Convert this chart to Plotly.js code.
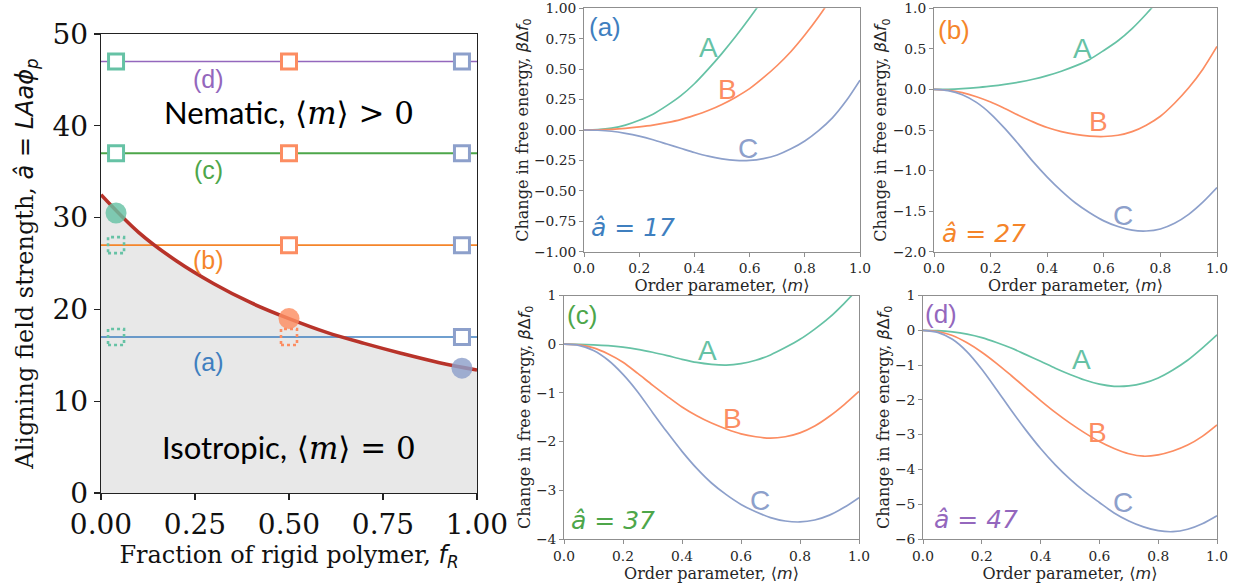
<!DOCTYPE html>
<html><head><meta charset="utf-8">
<script src="https://cdn.plot.ly/plotly-3.0.1.min.js"></script>
<style>html,body{margin:0;padding:0;background:#fff}#chart{width:1245px;height:585px}</style>
</head><body><div id="chart"></div>
<script>
// ---------- Left panel: phase diagram ----------
const fracRigid    = [0, 0.1, 0.2, 0.3, 0.4, 0.5, 0.6, 0.7, 0.8, 0.9, 1.0];
const boundaryAHat = [32.5, 28.4, 25.3, 22.8, 20.7, 19.0, 17.5, 16.3, 15.2, 14.2, 13.4];
const fieldLevels  = [17, 27, 37, 47];
const levelLabels  = ['(a)', '(b)', '(c)', '(d)'];
const levelLabelY  = [14.3, 25.4, 35.2, 45.1];
const systems      = ['A', 'B', 'C'];
const systemFR     = [0.04, 0.5, 0.96];
const transitionAHat = [30.5, 19.0, 13.6];
const nematicA = [37, 47];
const nematicB = [27, 37, 47];
const nematicC = [17, 27, 37, 47];
const isotropicA = [17, 27];
const isotropicB = [17];
const isotropicC = [];

// ---------- Right panels: free energy vs order parameter ----------
const orderParam = [0, 0.05, 0.1, 0.15, 0.2, 0.25, 0.3, 0.35, 0.4, 0.45, 0.5,
                    0.55, 0.6, 0.65, 0.7, 0.75, 0.8, 0.85, 0.9, 0.95, 1.0];
// (a) a-hat = 17
const dfA17 = [0, 0.003, 0.015, 0.04, 0.08, 0.13, 0.2, 0.28, 0.38, 0.5, 0.63, 0.77, 0.92, 1.08, 1.25, 1.43, 1.62, 1.82, 2.03, 2.25, 2.48];
const dfB17 = [0, 0.001, 0.005, 0.013, 0.025, 0.04, 0.06, 0.085, 0.12, 0.16, 0.21, 0.27, 0.34, 0.43, 0.53, 0.645, 0.78, 0.93, 1.1, 1.29, 1.5];
const dfC17 = [0, -0.002, -0.01, -0.027, -0.05, -0.08, -0.115, -0.15, -0.185, -0.215, -0.237, -0.25, -0.25, -0.235, -0.205, -0.155, -0.09, -0.005, 0.1, 0.24, 0.41];
// (b) a-hat = 27
const dfA27 = [0, 0.002, 0.01, 0.022, 0.04, 0.062, 0.09, 0.125, 0.17, 0.225, 0.29, 0.37, 0.48, 0.6, 0.75, 0.93, 1.13, 1.35, 1.6, 1.87, 2.15];
const dfB27 = [0, -0.01, -0.04, -0.09, -0.155, -0.235, -0.32, -0.4, -0.47, -0.52, -0.555, -0.575, -0.58, -0.565, -0.52, -0.44, -0.33, -0.17, 0.02, 0.25, 0.53];
const dfC27 = [0, -0.015, -0.065, -0.16, -0.3, -0.48, -0.68, -0.89, -1.08, -1.25, -1.4, -1.52, -1.62, -1.69, -1.735, -1.745, -1.72, -1.65, -1.54, -1.39, -1.21];
// (c) a-hat = 37
const dfA37 = [0, -0.002, -0.012, -0.03, -0.06, -0.105, -0.165, -0.235, -0.31, -0.375, -0.415, -0.43, -0.4, -0.33, -0.22, -0.07, 0.1, 0.31, 0.55, 0.84, 1.16];
const dfB37 = [0, -0.015, -0.075, -0.2, -0.37, -0.6, -0.84, -1.07, -1.29, -1.47, -1.62, -1.74, -1.84, -1.9, -1.93, -1.9, -1.82, -1.68, -1.48, -1.24, -0.97];
const dfC37 = [0, -0.025, -0.13, -0.33, -0.62, -0.98, -1.4, -1.81, -2.2, -2.55, -2.85, -3.09, -3.29, -3.44, -3.56, -3.63, -3.65, -3.61, -3.51, -3.35, -3.15];
// (d) a-hat = 47
const dfA47 = [0, -0.01, -0.045, -0.11, -0.21, -0.35, -0.51, -0.7, -0.89, -1.09, -1.27, -1.43, -1.55, -1.61, -1.6, -1.52, -1.37, -1.14, -0.86, -0.51, -0.13];
const dfB47 = [0, -0.035, -0.15, -0.36, -0.63, -0.95, -1.3, -1.66, -2.02, -2.36, -2.67, -2.95, -3.2, -3.4, -3.55, -3.62, -3.58, -3.47, -3.3, -3.05, -2.72];
const dfC47 = [0, -0.06, -0.26, -0.62, -1.12, -1.7, -2.3, -2.87, -3.4, -3.87, -4.28, -4.64, -4.95, -5.25, -5.48, -5.65, -5.76, -5.79, -5.72, -5.56, -5.33];

const panelLevels = [17, 27, 37, 47];
const panelYRange = [[-1, 1], [-2, 1], [-4, 1], [-6, 1]];
const panelYDtick = [0.25, 0.5, 1, 1];
const panelYFormat = ['.2f', '.1f', 'd', 'd'];
const labelX = [[0.45, 0.52, 0.594], [0.523, 0.58, 0.668], [0.485, 0.57, 0.664], [0.54, 0.595, 0.68]];
const labelY = [[0.68, 0.33, -0.15], [0.51, -0.40, -1.55], [-0.13, -1.52, -3.2], [-0.85, -2.95, -4.96]];

const sysColors = ['#66c2a5', '#fc8d62', '#8da0cb'];
const levelColors = ['#3f7fbf', '#f5852a', '#4da64a', '#9467bd'];

const traces = [];
traces.push({x: fracRigid, y: boundaryAHat, type: 'scatter', mode: 'lines', fill: 'tozeroy',
  fillcolor: '#e8e8e8', line: {width: 0, shape: 'spline'}, xaxis: 'x', yaxis: 'y', hoverinfo: 'skip'});
fieldLevels.forEach((v, i) => {
  traces.push({x: [0, 1], y: [v, v], type: 'scatter', mode: 'lines',
    line: {color: levelColors[i], width: i === 2 ? 2 : 1.6}, xaxis: 'x', yaxis: 'y'});
});
traces.push({x: fracRigid, y: boundaryAHat, type: 'scatter', mode: 'lines',
  line: {color: '#b8332a', width: 3.6, shape: 'spline'}, xaxis: 'x', yaxis: 'y'});
[nematicA, nematicB, nematicC].forEach((ys, i) => {
  traces.push({x: ys.map(() => systemFR[i]), y: ys, type: 'scatter', mode: 'markers',
    marker: {symbol: 'square', size: 15, color: 'white', line: {color: sysColors[i], width: 3}},
    xaxis: 'x', yaxis: 'y', cliponaxis: false});
});
traces.push({x: systemFR, y: transitionAHat, type: 'scatter', mode: 'markers',
  marker: {symbol: 'circle', size: 21, color: sysColors, opacity: 0.82, line: {width: 0}},
  xaxis: 'x', yaxis: 'y', cliponaxis: false});

const panelData = [[dfA17, dfB17, dfC17], [dfA27, dfB27, dfC27], [dfA37, dfB37, dfC37], [dfA47, dfB47, dfC47]];
panelData.forEach((set, p) => {
  set.forEach((ys, s) => {
    traces.push({x: orderParam, y: ys, type: 'scatter', mode: 'lines',
      line: {color: sysColors[s], width: 1.7, shape: 'spline', smoothing: 0.8},
      xaxis: 'x' + (p + 2), yaxis: 'y' + (p + 2)});
  });
});

const shapes = [];
[isotropicA, isotropicB, isotropicC].forEach((ys, i) => {
  ys.forEach(v => {
    shapes.push({type: 'rect', xref: 'x', yref: 'y', xsizemode: 'pixel', ysizemode: 'pixel',
      xanchor: systemFR[i], yanchor: v, x0: -8, x1: 8, y0: -8, y1: 8,
      line: {color: sysColors[i], width: 2.6, dash: 'dot'}, fillcolor: 'rgba(0,0,0,0)', layer: 'above'});
  });
});

const serif = 'DejaVu Serif, serif';
const annotations = [];
fieldLevels.forEach((v, i) => {
  annotations.push({x: 0.285, y: levelLabelY[i], xref: 'x', yref: 'y', text: levelLabels[i], showarrow: false,
    font: {family: 'Liberation Sans, Arial', size: 25, color: levelColors[i]}, xanchor: 'center', yanchor: 'middle'});
});
annotations.push({x: 0.5, y: 41.5, xref: 'x', yref: 'y', showarrow: false, xanchor: 'center', yanchor: 'middle',
  text: '<span style="font-family:Lato">Nematic,</span> <span style="font-family:DejaVu Serif">⟨<i>m</i>⟩ &gt; 0</span>',
  font: {family: serif, size: 31, color: '#000'}});
annotations.push({x: 0.5, y: 5.0, xref: 'x', yref: 'y', showarrow: false, xanchor: 'center', yanchor: 'middle',
  text: '<span style="font-family:Lato">Isotropic,</span> <span style="font-family:DejaVu Serif">⟨<i>m</i>⟩ = 0</span>',
  font: {family: serif, size: 31, color: '#000'}});

const panelTagX = [0.076, 0.07, 0.06, 0.06];
const panelTagY = [0.923, 0.91, 0.918, 0.925];
const hatX = [0.018, 0.021, 0.017, 0.03];
const hatY = [0.10, 0.075, 0.075, 0.08];
panelLevels.forEach((lv, p) => {
  const xr = 'x' + (p + 2), yr = 'y' + (p + 2);
  annotations.push({x: panelTagX[p], y: panelTagY[p], xref: xr + ' domain', yref: yr + ' domain', showarrow: false,
    text: levelLabels[p], xanchor: 'center', yanchor: 'middle',
    font: {family: 'Liberation Sans, Arial', size: 26, color: levelColors[p]}});
  annotations.push({x: hatX[p], y: hatY[p], xref: xr + ' domain', yref: yr + ' domain', showarrow: false,
    text: '<i>â</i> = <i>' + lv + '</i>', xanchor: 'left', yanchor: 'middle',
    font: {family: 'DejaVu Sans', size: 25, color: levelColors[p]}});
  systems.forEach((s, k) => {
    annotations.push({x: labelX[p][k], y: labelY[p][k], xref: xr, yref: yr, showarrow: false,
      text: s, xanchor: 'center', yanchor: 'middle',
      font: {family: 'Liberation Sans, Arial', size: 28, color: sysColors[k]}});
  });
});

const W = 1245, H = 585;
function dx(a, b) { return [a / W, b / W]; }
function dy(top, bottom) { return [(H - bottom) / H, (H - top) / H]; }

function leftAxis(extra) {
  return Object.assign({showline: true, mirror: true, linecolor: '#222', linewidth: 1.3, ticks: 'outside',
    ticklen: 6, tickwidth: 1.3, tickcolor: '#222', showgrid: false, zeroline: false,
    tickfont: {family: serif, size: 28, color: '#111'}}, extra);
}
function rightAxis(extra) {
  return Object.assign({showline: true, mirror: true, linecolor: '#8f8f8f', linewidth: 1, ticks: 'outside',
    ticklen: 4, tickwidth: 1, tickcolor: '#8f8f8f', showgrid: false, zeroline: false,
    tickfont: {family: serif, size: 13.8, color: '#262626'}}, extra);
}

const layout = {
  width: W, height: H, margin: {l: 0, r: 0, t: 0, b: 0}, showlegend: false,
  paper_bgcolor: 'white', plot_bgcolor: 'white',
  font: {family: serif, color: '#222'},
  shapes: shapes, annotations: annotations,
  xaxis: leftAxis({domain: dx(101, 477), range: [0, 1], tickvals: [0, 0.25, 0.5, 0.75, 1],
    tickformat: '.2f', anchor: 'y',
    title: {text: 'Fraction of rigid polymer, <span style="font-family:DejaVu Sans"><i>f</i><sub><i>R</i></sub></span>',
      font: {family: serif, size: 24, color: '#111'}, standoff: 6}}),
  yaxis: leftAxis({domain: dy(34, 493), range: [0, 50], dtick: 10, anchor: 'x',
    title: {text: 'Aligning field strength, <span style="font-family:DejaVu Sans"><i>â</i> = <i>LAaϕ</i><sub><i>p</i></sub></span>',
      font: {family: serif, size: 24, color: '#111'}, standoff: 12}})
};
const pDomX = [dx(584, 860), dx(934, 1217), dx(564, 859), dx(923, 1217)];
const pDomY = [dy(8.3, 251.7), dy(8.3, 251.7), dy(295.5, 539), dy(295.5, 539)];
panelLevels.forEach((lv, p) => {
  const n = p + 2;
  layout['xaxis' + n] = rightAxis({domain: pDomX[p], range: [0, 1], dtick: 0.2,
    tickformat: '.1f', anchor: 'y' + n,
    title: {text: 'Order parameter, <span style="font-family:DejaVu Sans">⟨<i>m</i>⟩</span>',
      font: {family: serif, size: 16, color: '#262626'}, standoff: 2}});
  layout['yaxis' + n] = rightAxis({domain: pDomY[p], range: panelYRange[p],
    dtick: panelYDtick[p], tickformat: panelYFormat[p], anchor: 'x' + n,
    title: {text: 'Change in free energy, <span style="font-family:DejaVu Sans"><i>β</i>Δ<i>f</i><sub>0</sub></span>',
      font: {family: serif, size: 16, color: '#262626'}, standoff: 1}});
});

Plotly.newPlot('chart', traces, layout, {staticPlot: true, displayModeBar: false});
</script>
</body></html>
